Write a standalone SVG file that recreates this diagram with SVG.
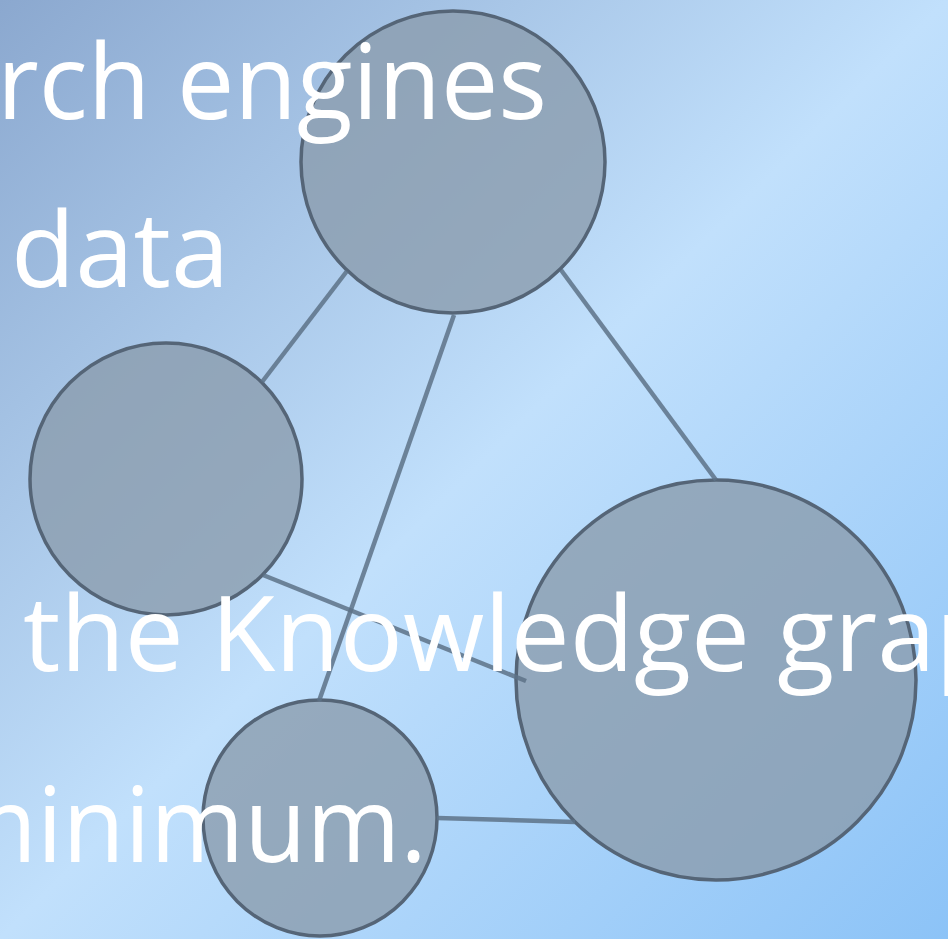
<svg xmlns="http://www.w3.org/2000/svg" width="948" height="939" viewBox="0 0 948 939">
<style>
.node{fill:#8b9cae;fill-opacity:0.8;stroke:#556577;stroke-width:3.5}
.link{stroke:#5d7287;stroke-opacity:0.85;stroke-width:4.5;fill:none}
.t{font-family:"Open Sans","Liberation Sans",sans-serif;font-size:105px;fill:#ffffff}
</style>
<defs>
<linearGradient id="bg" x1="0" y1="0" x2="1" y2="1">
<stop offset="0" stop-color="#8ba8cf"/>
<stop offset="0.5" stop-color="#c1e0fc"/>
<stop offset="1" stop-color="#8cc3f7"/>
</linearGradient>
</defs>
<rect x="0" y="0" width="948" height="939" fill="url(#bg)"/>
<g id="node-top"><ellipse class="node" cx="453" cy="162" rx="152" ry="151"/></g>
<g id="node-left"><ellipse class="node" cx="166" cy="479" rx="136" ry="136"/></g>
<g id="node-big"><ellipse class="node" cx="716" cy="680" rx="200" ry="200"/></g>
<g id="node-bottom"><ellipse class="node" cx="320" cy="818" rx="117" ry="118"/></g>
<g id="connectors">
<line class="link" x1="347" y1="271" x2="262" y2="382"/>
<line class="link" x1="454" y1="315" x2="319" y2="701"/>
<line class="link" x1="561" y1="270" x2="716" y2="480"/>
<line class="link" x1="263" y1="575" x2="526" y2="681"/>
<line class="link" x1="437" y1="818" x2="575" y2="822"/>
</g>
<g id="texts">
<text class="t" x="-3" y="119" textLength="550" lengthAdjust="spacingAndGlyphs">rch engines</text>
<text class="t" x="11" y="287">data</text>
<text class="t" x="23" y="671">the Knowledge grap</text>
<text class="t" x="-57" y="862" textLength="484" lengthAdjust="spacingAndGlyphs">minimum.</text>
</g>
</svg>
